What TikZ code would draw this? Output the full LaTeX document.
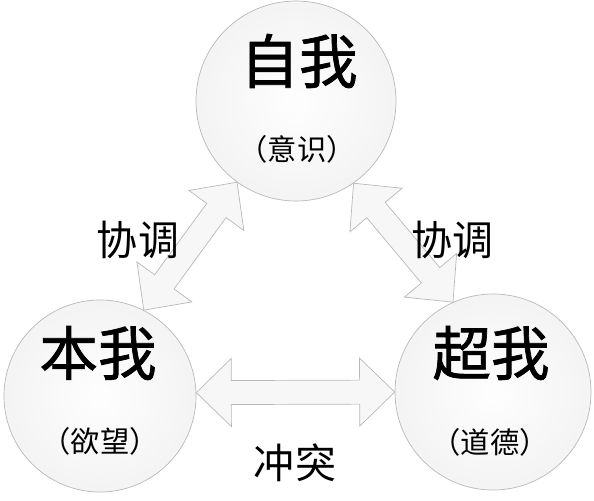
\documentclass[tikz,border=0pt]{standalone}
\usepackage{fontspec}
\newfontfamily\cjk{Noto Sans CJK SC}
\newfontfamily\cjkb[FakeBold=1.2]{Noto Sans CJK SC}
\usetikzlibrary{calc}
\newcommand\blockarrow[2]{%
  \draw[barrow] (#1)
    -- ($(#1)!1.05cm!(#2)!1.02cm!90:(#2)$)
    -- ($(#1)!1.05cm!(#2)!0.36cm!90:(#2)$)
    -- ($(#2)!1.05cm!(#1)!0.36cm!-90:(#1)$)
    -- ($(#2)!1.05cm!(#1)!1.02cm!-90:(#1)$)
    -- (#2)
    -- ($(#2)!1.05cm!(#1)!1.02cm!90:(#1)$)
    -- ($(#2)!1.05cm!(#1)!0.36cm!90:(#1)$)
    -- ($(#1)!1.05cm!(#2)!0.36cm!-90:(#2)$)
    -- ($(#1)!1.05cm!(#2)!1.02cm!-90:(#2)$)
    -- cycle;}
\begin{document}
\begin{tikzpicture}[x=0.03cm,y=-0.03cm,
  bubble/.style={circle,draw=gray!55,line width=0.6pt,inner sep=0pt,
    shading=radial,inner color=gray!1,outer color=gray!9},
  bigtxt/.style={font=\cjkb\fontsize{50pt}{50pt}\selectfont,inner sep=0pt},
  subtxt/.style={font=\cjk\fontsize{25pt}{25pt}\selectfont,inner sep=0pt},
  lbl/.style={font=\cjk\fontsize{35pt}{35pt}\selectfont,inner sep=0pt},
  barrow/.style={draw=gray!55,line width=0.6pt,fill=gray!6,line join=miter}]
\useasboundingbox (0,0) rectangle (594,500);
\fill[white] (0,0) rectangle (594,500);
\node[bubble,minimum size=6cm] (ego) at (296,101) {};
\node[bubble,minimum size=5.76cm] (id) at (100,396) {};
\node[bubble,minimum size=5.88cm] (superego) at (493,392) {};
\coordinate (a1) at (ego.234.7);
\coordinate (b1) at (id.63.7);
\coordinate (a2) at (ego.305.8);
\coordinate (b2) at (superego.114.5);
\coordinate (a3) at (id.2.4);
\coordinate (b3) at (superego.180);
\blockarrow{a1}{b1}
\blockarrow{a2}{b2}
\blockarrow{a3}{b3}
\node[bigtxt] (egot) at (299,61) {自我};
\node[subtxt] (egos) at (297,149) {（意识）};
\node[bigtxt] (idt) at (98,353) {本我};
\node[subtxt] (ids) at (100,441) {（欲望）};
\node[bigtxt] (supt) at (491,353) {超我};
\node[subtxt] (sups) at (490,442) {（道德）};
\node[lbl] (l1) at (138,240) {协调};
\node[lbl] (l2) at (452,240) {协调};
\node[lbl] (l3) at (295,463) {冲突};
\end{tikzpicture}
\end{document}
